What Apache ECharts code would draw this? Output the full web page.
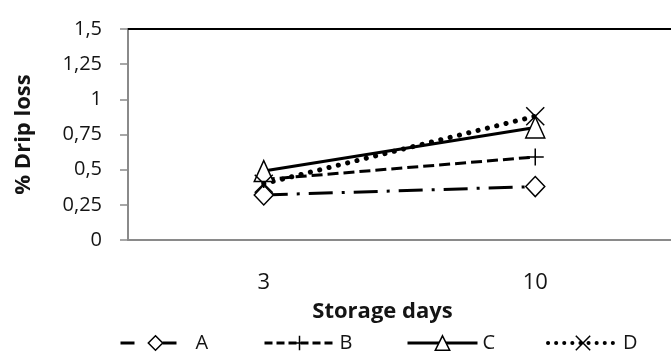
<!DOCTYPE html>
<html>
<head>
<meta charset="utf-8">
<script src="https://cdn.jsdelivr.net/npm/echarts@6/dist/echarts.min.js"></script>
<style>
  html, body { margin: 0; padding: 0; background: #fff; }
  #chart { width: 671px; height: 352px; }
</style>
</head>
<body>
<div id="chart"></div>
<script>
// Storage days on the category axis
const days = ['3', '10'];

// % drip loss per treatment
const seriesA = [0.32, 0.38];
const seriesB = [0.43, 0.59];
const seriesC = [0.49, 0.80];
const seriesD = [0.40, 0.88];

// Value-axis tick labels (decimal comma)
const yTickLabels = ['0', '0,25', '0,5', '0,75', '1', '1,25', '1,5'];

const FONT = '"Open Sans", "Liberation Sans", sans-serif';
const INK = '#141414';

const plusPath = 'path://M10,0 L10,20 M0,10 L20,10';
const crossPath = 'path://M0,0 L20,20 M20,0 L0,20';

function lineSeries(name, data, lineStyle, symbol, size) {
  return {
    name: name,
    type: 'line',
    data: data,
    symbol: symbol,
    symbolSize: size,
    showAllSymbol: true,
    lineStyle: Object.assign({ color: '#000', width: 3 }, lineStyle),
    itemStyle: { color: '#fff', borderColor: '#000', borderWidth: 1.5 },
    emphasis: { disabled: true },
    animation: false
  };
}

// one legend box per series so each key sits at its own spot
function legendAt(name, left, lineStyle) {
  return {
    data: [{
      name: name,
      lineStyle: Object.assign({ color: '#000', width: 3 }, lineStyle),
      itemStyle: { color: '#fff', borderColor: '#000', borderWidth: 1.5 }
    }],
    left: left,
    top: 331,
    padding: 0,
    itemWidth: 70,
    itemHeight: 18,
    itemGap: 0,
    selectedMode: false,
    textStyle: { fontFamily: FONT, fontSize: 20, color: INK, lineHeight: 24 }
  };
}

const chart = echarts.init(document.getElementById('chart'));

chart.setOption({
  backgroundColor: '#fff',
  animation: false,
  grid: { left: 128, right: -5, top: 29, bottom: 112 },
  legend: [
    legendAt('A', 119, { type: [14, 28] }),
    legendAt('B', 263, { type: [8, 4] }),
    legendAt('C', 406, { type: 'solid' }),
    legendAt('D', 546, { type: [0.1, 8], cap: 'round', width: 4 })
  ],
  xAxis: [{
    type: 'category',
    data: days,
    boundaryGap: true,
    axisLine: { lineStyle: { color: '#8a8a8a', width: 2 } },
    axisTick: { show: false },
    axisLabel: { margin: 31, fontFamily: FONT, fontSize: 22, color: INK, lineHeight: 24 },
    name: 'Storage days',
    nameLocation: 'middle',
    nameGap: 48,
    nameTextStyle: {
      fontFamily: FONT, fontSize: 22, fontWeight: 'bold', color: INK,
      lineHeight: 24, padding: [0, 34, 0, 0]
    }
  }, {
    type: 'category',
    data: days,
    position: 'top',
    axisLine: { lineStyle: { color: '#000', width: 2 } },
    axisTick: { show: false },
    axisLabel: { show: false }
  }],
  yAxis: {
    type: 'value',
    min: 0,
    max: 1.5,
    interval: 0.25,
    axisLine: { show: true, lineStyle: { color: '#8a8a8a', width: 2 } },
    axisTick: { show: true, length: 8, lineStyle: { color: '#8a8a8a', width: 1.5 } },
    splitLine: { show: false },
    axisLabel: {
      margin: 26,
      fontFamily: FONT,
      fontSize: 20,
      color: INK,
      formatter: function (v) { return yTickLabels[Math.round(v / 0.25)]; }
    },
    name: '% Drip loss',
    nameLocation: 'middle',
    nameGap: 93,
    nameRotate: 90,
    nameTextStyle: { fontFamily: FONT, fontSize: 22, fontWeight: 'bold', color: INK }
  },
  series: [
    lineSeries('A', seriesA, { type: [24, 9, 3, 9] }, 'diamond', [19, 20]),
    lineSeries('B', seriesB, { type: [11, 5] }, plusPath, 17),
    lineSeries('C', seriesC, { type: 'solid' }, 'triangle', [19, 21]),
    lineSeries('D', seriesD, { type: [0.1, 9.5], cap: 'round', width: 5 }, crossPath, 18)
  ]
});
</script>
</body>
</html>
